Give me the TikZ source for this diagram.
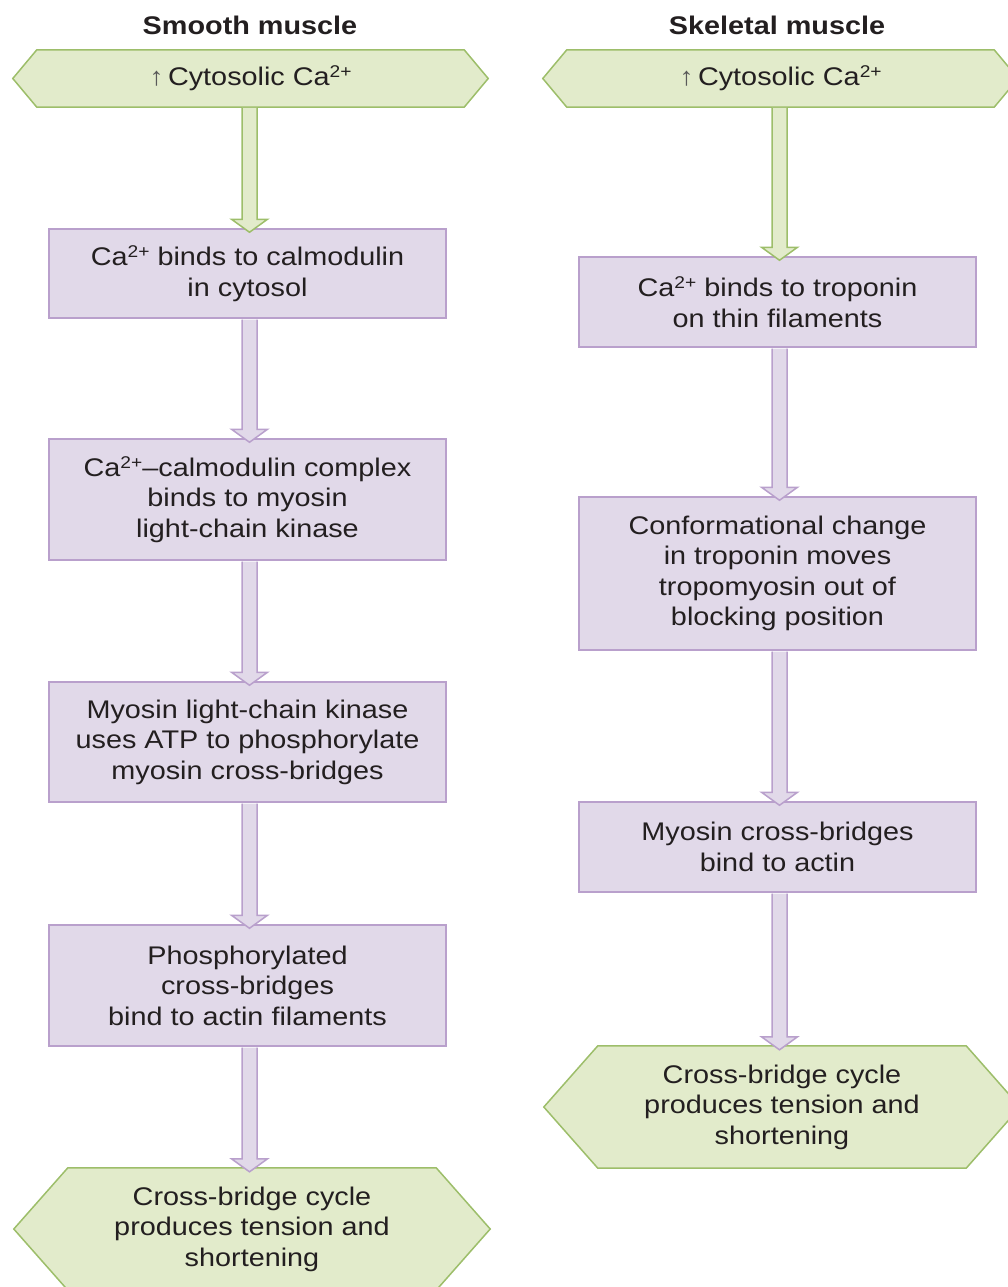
\documentclass[tikz,border=0pt]{standalone}
\usepackage{fontspec}
\setmainfont[FakeStretch=1.13]{Liberation Sans}
\usetikzlibrary{calc}
\pgfdeclarelayer{background}
\pgfsetlayers{background,main}
\definecolor{gfill}{HTML}{E2EBCB}
\definecolor{gline}{HTML}{9DBE6A}
\definecolor{pfill}{HTML}{E1D9E9}
\definecolor{pline}{HTML}{B9A0CC}
\definecolor{txt}{HTML}{231F20}
\newcommand\casup[1]{\raisebox{8pt}{\fontsize{17}{17}\selectfont #1}}
\newcommand\hexbg[2]{%
  \begin{pgfonlayer}{background}
  \filldraw[hexline] (#1.west) -- ([xshift=#2]#1.north west) -- ([xshift=-#2]#1.north east)
     -- (#1.east) -- ([xshift=-#2]#1.south east) -- ([xshift=#2]#1.south west) -- cycle;
  \end{pgfonlayer}}
\newcommand\blockarrow[4][2pt]{%
  \filldraw[#4] let \p1=([xshift=#1]#2.south), \p2=(#3.north) in
    (\x1-7.5pt,\y1-0.75pt) -- (\x1-7.5pt,\y2+9pt) -- (\x1-18pt,\y2+9pt) -- (\x1,\y2-4pt)
    -- (\x1+18pt,\y2+9pt) -- (\x1+7.5pt,\y2+9pt) -- (\x1+7.5pt,\y1-0.75pt);}
\begin{document}
\begin{tikzpicture}[x=1pt,y=-1pt,
  font=\fontsize{25.5}{30.5}\selectfont, text=txt,
  box/.style={rectangle, draw=pline, fill=pfill, line width=1.5pt,
    minimum width=397pt, align=center, inner sep=0pt},
  hex/.style={rectangle, inner sep=0pt, minimum width=475pt, align=center},
  hexline/.style={draw=gline, fill=gfill, line width=1.5pt, line join=miter},
  title/.style={font=\fontsize{25.5}{30}\selectfont\bfseries},
  garrow/.style={draw=gline, fill=gfill, line width=1.5pt, line join=miter},
  parrow/.style={draw=pline, fill=pfill, line width=1.5pt, line join=miter}]
\useasboundingbox (0,0) rectangle (1008,1287);

% titles
\node[title] (t1) at (250,25) {Smooth muscle};
\node[title] (t2) at (777,25) {Skeletal muscle};

% smooth muscle column
\node[hex, minimum height=57pt] (L0) at (250.5,78.5) {{\color{black!65}↑}\,Cytosolic Ca\casup{2+}};
\hexbg{L0}{24pt}
\node[box, minimum height=89pt] (L1) at (247.5,273.5) {Ca\casup{2+} binds to calmodulin\\in cytosol};
\node[box, minimum height=121pt] (L2) at (247.5,499.5) {Ca\casup{2+}–calmodulin complex\\binds to myosin\\light-chain kinase};
\node[box, minimum height=120pt] (L3) at (247.5,742) {Myosin light-chain kinase\\uses ATP to phosphorylate\\myosin cross-bridges};
\node[box, minimum height=121pt] (L4) at (247.5,985.5) {Phosphorylated\\cross-bridges\\bind to actin filaments};
\node[hex, minimum height=122pt, minimum width=476pt] (L5) at (252,1229) {Cross-bridge cycle\\produces tension and\\shortening};
\hexbg{L5}{54pt}

% skeletal muscle column
\node[hex, minimum height=57pt] (R0) at (780.5,78.5) {{\color{black!65}↑}\,Cytosolic Ca\casup{2+}};
\hexbg{R0}{24pt}
\node[box, minimum height=90pt] (R1) at (777.5,302) {Ca\casup{2+} binds to troponin\\on thin filaments};
\node[box, minimum height=153pt] (R2) at (777.5,573.5) {Conformational change\\in troponin moves\\tropomyosin out of\\blocking position};
\node[box, minimum height=90pt] (R3) at (777.5,847) {Myosin cross-bridges\\bind to actin};
\node[hex, minimum height=122pt, minimum width=476pt] (R5) at (782,1107) {Cross-bridge cycle\\produces tension and\\shortening};
\hexbg{R5}{54pt}

% connectors
\blockarrow[-1pt]{L0}{L1}{garrow}
\blockarrow{L1}{L2}{parrow}
\blockarrow{L2}{L3}{parrow}
\blockarrow{L3}{L4}{parrow}
\blockarrow{L4}{L5}{parrow}
\blockarrow[-1pt]{R0}{R1}{garrow}
\blockarrow{R1}{R2}{parrow}
\blockarrow{R2}{R3}{parrow}
\blockarrow{R3}{R5}{parrow}
\end{tikzpicture}
\end{document}
